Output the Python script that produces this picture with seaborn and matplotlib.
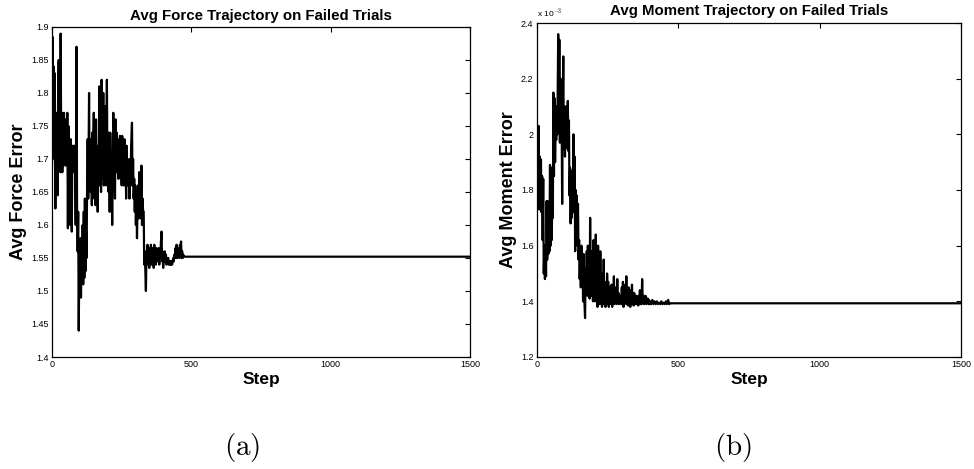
import matplotlib
matplotlib.use("Agg")
import matplotlib.pyplot as plt
import seaborn as sns
import numpy as np

# ---------------- data ----------------
force_steps = [0, 2, 4, 6, 8, 10, 12, 14, 16, 18, 20, 22, 24, 26, 28, 30, 31, 33,
               35, 37, 39, 41, 43, 45, 47, 49, 51, 53, 55, 57, 59, 61, 63, 65, 67, 69,
               71, 73, 75, 77, 79, 81, 83, 85, 88, 90, 92, 94, 96, 98, 100, 102, 104,
               106, 108, 110, 112, 114, 116, 118, 120, 122, 124, 126, 128, 130, 133,
               135, 137, 139, 141, 143, 145, 147, 150, 152, 154, 156, 158, 160, 162,
               164, 166, 168, 170, 172, 174, 176, 178, 180, 182, 184, 186, 188, 190,
               192, 194, 197, 199, 201, 203, 205, 207, 209, 211, 213, 216, 218, 220,
               222, 224, 226, 228, 230, 232, 234, 236, 238, 240, 242, 244, 246, 248,
               250, 252, 254, 256, 258, 260, 262, 264, 266, 268, 270, 272, 274, 276,
               278, 280, 282, 284, 287, 289, 291, 293, 295, 297, 299, 301, 303, 305,
               307, 309, 311, 313, 315, 317, 319, 321, 323, 325, 327, 329, 331, 333,
               335, 337, 339, 341, 343, 345, 347, 349, 351, 353, 355, 357, 359, 361,
               363, 365, 367, 369, 371, 373, 375, 377, 379, 381, 383, 385, 387, 389,
               391, 393, 395, 397, 399, 401, 403, 405, 407, 409, 411, 413, 415, 417,
               419, 421, 423, 425, 427, 429, 431, 433, 435, 437, 439, 441, 443, 445,
               447, 449, 451, 453, 455, 457, 459, 461, 463, 465, 467, 469, 471, 474,
               1500]
force_error = [1.69, 1.885, 1.74, 1.84, 1.70, 1.83, 1.625, 1.77, 1.70, 1.76, 1.645, 1.80,
               1.85, 1.70, 1.77, 1.68, 1.89, 1.72,
               1.77, 1.68, 1.75, 1.69, 1.77, 1.70, 1.76, 1.69, 1.72, 1.70, 1.77, 1.595,
               1.75, 1.70, 1.72, 1.60, 1.73, 1.66,
               1.59, 1.72, 1.68, 1.72, 1.70, 1.72, 1.69, 1.60, 1.87, 1.62, 1.56, 1.62,
               1.44, 1.55, 1.50, 1.58, 1.49,
               1.56, 1.52, 1.60, 1.51, 1.62, 1.52, 1.64, 1.53, 1.59, 1.55, 1.66, 1.73,
               1.64, 1.80,
               1.66, 1.73, 1.65, 1.70, 1.63, 1.74, 1.68, 1.77, 1.64, 1.72, 1.63, 1.76,
               1.66, 1.72,
               1.62, 1.70, 1.68, 1.81, 1.66, 1.79, 1.65, 1.82, 1.70, 1.67, 1.80, 1.66,
               1.74, 1.68,
               1.78, 1.66, 1.82, 1.67, 1.74, 1.65, 1.72, 1.62, 1.74, 1.66, 1.70, 1.60,
               1.69, 1.77,
               1.66, 1.70, 1.64, 1.76, 1.68, 1.74, 1.68, 1.73, 1.67, 1.72, 1.69, 1.735,
               1.67, 1.72,
               1.66, 1.735, 1.68, 1.71, 1.66, 1.73, 1.67, 1.70, 1.64, 1.72, 1.66, 1.70,
               1.68, 1.69,
               1.64, 1.70, 1.66, 1.72, 1.755, 1.66, 1.70, 1.64, 1.67, 1.62, 1.66, 1.60,
               1.64, 1.58,
               1.63, 1.66, 1.61, 1.68, 1.62, 1.65, 1.61, 1.69, 1.60, 1.64, 1.62, 1.62,
               1.54, 1.56,
               1.53, 1.50, 1.56, 1.545, 1.57, 1.54, 1.565, 1.535, 1.56, 1.545, 1.57,
               1.54, 1.565, 1.545,
               1.565, 1.535, 1.57, 1.55, 1.56, 1.54, 1.565, 1.545, 1.56, 1.55, 1.565,
               1.54, 1.56, 1.55,
               1.575, 1.59, 1.545, 1.56, 1.535, 1.555, 1.545, 1.56, 1.545, 1.555, 1.54,
               1.55, 1.545, 1.55,
               1.54, 1.545, 1.54, 1.545, 1.54, 1.545, 1.54, 1.545, 1.55, 1.545, 1.555,
               1.55, 1.565, 1.55,
               1.57, 1.55, 1.565, 1.555, 1.56, 1.55, 1.57, 1.555, 1.575, 1.55, 1.56,
               1.55, 1.555, 1.552,
               1.552]

moment_steps = [0, 2, 4, 6, 8, 10, 12, 14, 16, 18, 20, 22, 24, 26, 28, 30, 32, 34, 36,
                38, 40, 42, 44, 46, 48, 50, 52, 54, 56, 58, 60, 62, 64, 66, 68, 70, 72,
                75, 77, 79, 81, 83, 85, 87, 89, 91, 93, 95, 97, 99, 101, 103, 105, 107,
                109, 111, 113, 115, 117, 119, 121, 123, 125, 127, 129, 131, 133, 135,
                137, 139, 141, 143, 145, 147, 149, 151, 153, 155, 157, 159, 161, 163,
                165, 167, 170, 172, 174, 176, 178, 180, 182, 184, 186, 188, 190, 192,
                194, 196, 198, 200, 202, 204, 206, 208, 210, 212, 214, 216, 218, 220,
                222, 224, 226, 228, 230, 232, 234, 236, 238, 240, 242, 244, 246, 248,
                250, 252, 254, 256, 258, 260, 262, 264, 266, 268, 270, 272, 274, 276,
                278, 280, 282, 284, 286, 288, 290, 292, 294, 296, 298, 300, 302, 304,
                306, 308, 310, 312, 314, 316, 318, 320, 322, 324, 326, 328, 330, 332,
                334, 336, 338, 340, 342, 344, 346, 348, 350, 352, 354, 356, 358, 360,
                362, 364, 366, 368, 370, 372, 374, 376, 378, 380, 382, 384, 386, 388,
                390, 392, 394, 396, 398, 400, 404, 408, 412, 416, 420, 424, 428, 432,
                436, 440, 444, 448, 452, 456, 460, 464, 468, 472, 1500]
moment_error_e3 = [1.95, 2.03, 1.77, 2.03, 1.73, 1.92, 1.80, 1.91, 1.72, 1.85, 1.62, 1.84,
                   1.50, 1.60, 1.48, 1.56, 1.49, 1.76, 1.55,
                   1.76, 1.57, 1.62, 1.58, 1.89, 1.60, 1.88, 1.62, 1.75, 1.70, 2.15, 1.85,
                   2.13, 1.90, 2.05, 1.98, 2.10, 2.00,
                   2.36, 2.02, 2.34, 1.97, 2.20, 2.05, 2.10, 1.75, 2.10, 2.28, 1.95, 2.08,
                   1.92, 2.10, 1.95, 2.10, 1.98,
                   2.12, 1.94, 2.05, 1.78, 1.88, 1.68, 1.85, 1.70, 1.87, 1.75, 2.00, 1.72,
                   1.92, 1.58,
                   1.80, 1.65, 1.78, 1.60, 1.75, 1.55, 1.62, 1.48, 1.58, 1.45, 1.60, 1.46,
                   1.55, 1.40,
                   1.57, 1.42, 1.34, 1.52, 1.45, 1.58, 1.42, 1.60, 1.45, 1.56, 1.41, 1.70,
                   1.45, 1.58,
                   1.42, 1.57, 1.40, 1.62, 1.44, 1.55, 1.40, 1.64, 1.42, 1.55, 1.38, 1.60,
                   1.42, 1.48,
                   1.39, 1.58, 1.41, 1.50, 1.38, 1.46, 1.40, 1.55, 1.39, 1.47, 1.38, 1.44,
                   1.39, 1.50,
                   1.40, 1.47, 1.38, 1.45, 1.40, 1.43, 1.39, 1.46, 1.38, 1.44, 1.40, 1.49,
                   1.39, 1.45,
                   1.40, 1.42, 1.39, 1.48, 1.40, 1.43, 1.39, 1.42, 1.40, 1.41, 1.39, 1.45,
                   1.39, 1.47,
                   1.38, 1.44, 1.39, 1.46, 1.40, 1.49, 1.39, 1.43, 1.385, 1.45, 1.39, 1.42,
                   1.38, 1.44,
                   1.39, 1.46, 1.39, 1.42, 1.385, 1.43, 1.39, 1.41, 1.39, 1.42, 1.39, 1.41,
                   1.385, 1.42,
                   1.39, 1.44, 1.39, 1.42, 1.39, 1.48, 1.40, 1.42, 1.39, 1.41, 1.395, 1.42,
                   1.39, 1.41,
                   1.395, 1.41, 1.39, 1.405, 1.39, 1.40, 1.39, 1.405, 1.39, 1.40, 1.39,
                   1.40, 1.39, 1.395,
                   1.39, 1.40, 1.39, 1.395, 1.39, 1.40, 1.39, 1.405, 1.39, 1.393, 1.393]
moment_scale = 1e-3

step_ticks = [0, 500, 1000, 1500]
step_ticklabels = ["0", "500", "1000", "1500"]
force_ticks = [1.4, 1.45, 1.5, 1.55, 1.6, 1.65, 1.7, 1.75, 1.8, 1.85, 1.9]
force_ticklabels = ["1.4", "1.45", "1.5", "1.55", "1.6", "1.65", "1.7", "1.75", "1.8",
                    "1.85", "1.9"]
moment_ticks_e3 = [1.2, 1.4, 1.6, 1.8, 2.0, 2.2, 2.4]
moment_ticklabels = ["1.2", "1.4", "1.6", "1.8", "2", "2.2", "2.4"]

# ---------------- style ----------------
sns.set_style("white")
plt.rcParams["font.family"] = ["Liberation Sans", "DejaVu Sans"]
plt.rcParams["mathtext.fontset"] = "cm"
plt.rcParams["text.color"] = "black"
plt.rcParams["axes.labelcolor"] = "black"
plt.rcParams["xtick.color"] = "black"
plt.rcParams["ytick.color"] = "black"

fig = plt.figure(figsize=(9.74, 4.69), dpi=100)
ax1 = fig.add_axes([52 / 974, 1 - 357 / 469, 418 / 974, 330 / 469])
ax2 = fig.add_axes([537 / 974, 1 - 357 / 469, 424 / 974, 334 / 469])

sns.lineplot(x=force_steps, y=force_error, ax=ax1, color="black", linewidth=1.6,
             estimator=None, sort=False)
moment_vals = [v * moment_scale for v in moment_error_e3]
sns.lineplot(x=moment_steps, y=moment_vals, ax=ax2, color="black", linewidth=1.6,
             estimator=None, sort=False)


def style_axes(ax, yticks, yticklabels, ylim, title, ylabel, ylab_x, title_pad):
    ax.set_xlim(0, 1500)
    ax.set_ylim(*ylim)
    ax.set_xticks(step_ticks)
    ax.set_xticklabels(step_ticklabels)
    ax.set_yticks(yticks)
    ax.set_yticklabels(yticklabels)
    ax.tick_params(axis="both", which="major", direction="in", length=3.5, width=0.8,
                   labelsize=6.5, pad=2.5, top=True, right=True, colors="black")
    for s in ax.spines.values():
        s.set_visible(True)
        s.set_color("black")
        s.set_linewidth(0.9)
    ax.set_title(title, fontsize=10.8, fontweight="bold", pad=title_pad, color="black")
    ax.set_xlabel("Step", fontsize=12.5, fontweight="bold", color="black")
    ax.set_ylabel(ylabel, fontsize=13, fontweight="bold", color="black")
    ax.xaxis.set_label_coords(0.5, -0.045)
    ax.yaxis.set_label_coords(ylab_x, 0.5)


style_axes(ax1, force_ticks, force_ticklabels, (1.4, 1.9),
           "Avg Force Trajectory on Failed Trials", "Avg Force Error", -0.060, 5)
style_axes(ax2, [t * moment_scale for t in moment_ticks_e3], moment_ticklabels,
           (1.2 * moment_scale, 2.4 * moment_scale),
           "Avg Moment Trajectory on Failed Trials", "Avg Moment Error", -0.047, 6)
ax1.xaxis.label.set_verticalalignment("top")
ax2.xaxis.label.set_verticalalignment("top")

ax2.text(0.0, 1.012, r"x 10$^{-3}$", transform=ax2.transAxes, fontsize=6,
         ha="left", va="bottom", color="black")

fig.text(242 / 974, 1 - 447 / 469, r"$\mathrm{(a)}$", fontsize=21, ha="center",
         va="center", color="black")
fig.text(733 / 974, 1 - 447 / 469, r"$\mathrm{(b)}$", fontsize=21, ha="center",
         va="center", color="black")

fig.savefig("out.png", dpi=100)
